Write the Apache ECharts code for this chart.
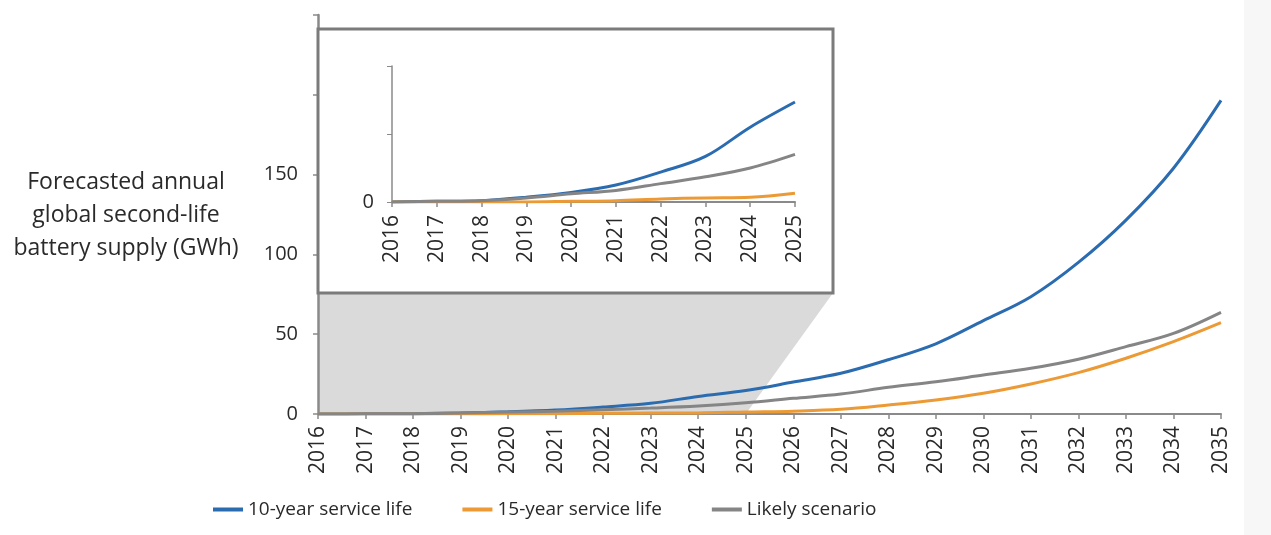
<!DOCTYPE html>
<html>
<head>
<meta charset="utf-8">
<script src="https://cdn.jsdelivr.net/npm/echarts@6/dist/echarts.min.js"></script>
<style>
  html, body { margin: 0; padding: 0; background: #fff; }
  #chart { width: 1271px; height: 535px; }
</style>
</head>
<body>
<div id="chart"></div>
<script>
// data (GWh)
const YEARS = ['2016', '2017', '2018', '2019', '2020', '2021', '2022', '2023', '2024', '2025',
               '2026', '2027', '2028', '2029', '2030', '2031', '2032', '2033', '2034', '2035'];
const LIFE_10 = [0, 0.1, 0.2, 0.7, 1.4, 2.5, 4.4, 6.7, 11.0, 14.7,
                 20, 25.5, 34, 44, 58.5, 73.5, 95, 121.5, 154, 196.5];
const LIFE_15 = [0, 0, 0, 0, 0.1, 0.2, 0.45, 0.6, 0.7, 1.3,
                 1.8, 2.9, 5.6, 8.8, 13, 18.8, 25.9, 34.9, 45.3, 57.2];
const LIKELY = [0, 0.1, 0.2, 0.6, 1.2, 1.7, 2.7, 3.7, 5.0, 7.0,
                9.8, 12.5, 16.7, 20.2, 24.4, 28.6, 34.3, 42.2, 50.5, 63.7];
const SERIES_NAMES = ['10-year service life', '15-year service life', 'Likely scenario'];
const Y_NAME = 'Forecasted annual\nglobal second-life\nbattery supply (GWh)';
const INSET_COUNT = 10; // zoomed view covers 2016-2025

const COLORS = ['#2b6cb0', '#ec9a35', '#858585'];
const FONT = '"Open Sans", sans-serif';
const TXT = '#2a2a2a';
const AXIS = '#8a8a8a';

const chart = echarts.init(document.getElementById('chart'));

const values = [LIFE_10, LIFE_15, LIKELY];
const insetYears = YEARS.slice(0, INSET_COUNT);

function lineSeries(i, axisIdx, data, z) {
    return {
        name: SERIES_NAMES[i],
        type: 'line',
        xAxisIndex: axisIdx,
        yAxisIndex: axisIdx,
        data: data,
        smooth: 0.35,
        symbol: 'none',
        z: z,
        lineStyle: { color: COLORS[i], width: 3 },
        itemStyle: { color: COLORS[i] },
    };
}

chart.setOption({
    animation: false,
    textStyle: { fontFamily: FONT },
    legend: {
        left: 208, top: 495,
        icon: 'rect', itemWidth: 30, itemHeight: 4, itemGap: 50,
        data: SERIES_NAMES,
        textStyle: { fontSize: 19, color: TXT, fontFamily: FONT },
    },
    grid: [
        { left: 318, right: 50, top: 15, bottom: 121 },
        { left: 392, right: 476, top: 66, bottom: 333 },
    ],
    xAxis: [
        {
            type: 'category', gridIndex: 0, data: YEARS, boundaryGap: false, z: 1,
            axisLine: { lineStyle: { color: AXIS, width: 2 } },
            axisTick: { show: true, interval: 0, length: 5, lineStyle: { color: AXIS, width: 1.5 } },
            axisLabel: { rotate: 90, interval: 0, fontSize: 21, color: TXT, margin: 12 },
        },
        {
            type: 'category', gridIndex: 1, data: insetYears, boundaryGap: false, z: 3,
            axisLine: { lineStyle: { color: AXIS, width: 2 } },
            axisTick: { show: true, interval: 0, length: 5, lineStyle: { color: AXIS, width: 1.5 } },
            axisLabel: { rotate: 90, interval: 0, fontSize: 21, color: TXT, margin: 13 },
        },
    ],
    yAxis: [
        {
            type: 'value', gridIndex: 0, min: 0, max: 250, interval: 50, z: 1,
            axisLine: { show: true, lineStyle: { color: AXIS, width: 2.5 } },
            axisTick: { show: true, length: 5, lineStyle: { color: AXIS, width: 1.5 } },
            splitLine: { show: false },
            axisLabel: {
                fontSize: 20, color: TXT, margin: 20,
                formatter: v => (v <= 150 ? String(v) : ''),
            },
        },
        {
            type: 'value', gridIndex: 1, min: 0, max: 20, interval: 10, z: 3,
            axisLine: { show: true, lineStyle: { color: AXIS, width: 1.5 } },
            axisTick: { show: true, length: 5, lineStyle: { color: AXIS, width: 1 } },
            splitLine: { show: false },
            axisLabel: {
                fontSize: 20, color: TXT, margin: 18,
                formatter: v => (v === 0 ? '0' : ''),
            },
        },
    ],
    series: [
        ...values.map((d, i) => lineSeries(i, 0, d, 2)),
        ...values.map((d, i) => lineSeries(i, 1, d.slice(0, INSET_COUNT), 4)),
    ],
});

// inset frame + shaded zoom wedge, anchored to the main axis positions
const FRAME = { x: 318, y: 29, w: 515, h: 264 };
const p0 = chart.convertToPixel({ gridIndex: 0 }, [YEARS[0], 0]);
const p1 = chart.convertToPixel({ gridIndex: 0 }, [YEARS[INSET_COUNT - 1], 0]);
const frameBottom = FRAME.y + FRAME.h;

chart.setOption({
    graphic: [
        {
            type: 'rect', z: -10, silent: true,
            shape: { x: 1244, y: 0, width: 27, height: 535 },
            style: { fill: '#f7f7f7' },
        },
        {
            type: 'polygon', z: 0, silent: true,
            shape: { points: [[p0[0], frameBottom], [FRAME.x + FRAME.w, frameBottom], [p1[0], p1[1]], [p0[0], p0[1]]] },
            style: { fill: '#dadada' },
        },
        {
            type: 'rect', z: 2, silent: true,
            shape: { x: FRAME.x, y: FRAME.y, width: FRAME.w, height: FRAME.h },
            style: { fill: '#fff', stroke: '#7b7b7b', lineWidth: 3 },
        },
        {
            type: 'text', z: 5, silent: true,
            x: 126, y: 215,
            style: {
                text: Y_NAME, fill: TXT, font: '23px ' + FONT,
                textAlign: 'center', textVerticalAlign: 'middle', lineHeight: 33,
            },
        },
    ],
});
</script>
</body>
</html>
